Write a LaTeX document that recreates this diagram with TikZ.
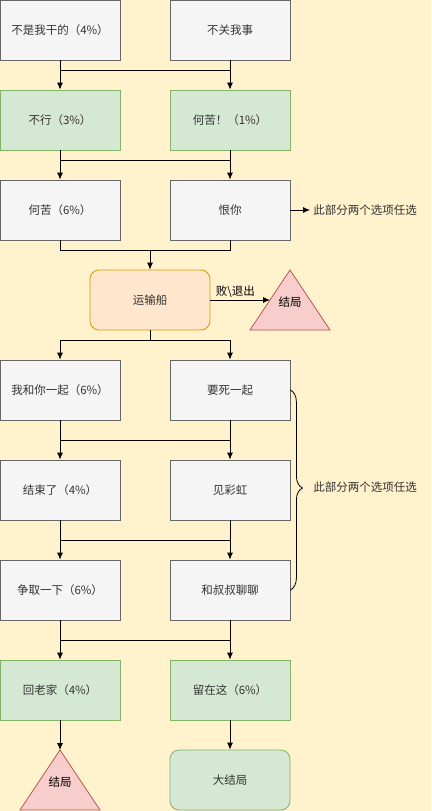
\documentclass[tikz,border=0pt]{standalone}
\usepackage{fontspec}
\setmainfont{Noto Sans CJK SC}
\usetikzlibrary{arrows.meta,decorations.pathreplacing}
\definecolor{bgyellow}{HTML}{FFF2CC}
\definecolor{greyfill}{HTML}{F5F5F5}
\definecolor{greyline}{HTML}{666666}
\definecolor{greytext}{HTML}{333333}
\definecolor{greenfill}{HTML}{D5E8D4}
\definecolor{greenline}{HTML}{82B366}
\definecolor{orangefill}{HTML}{FFE6CC}
\definecolor{orangeline}{HTML}{D79B00}
\definecolor{redfill}{HTML}{F8CECC}
\definecolor{redline}{HTML}{B85450}
\begin{document}
\begin{tikzpicture} [x = 1pt, y = -1pt, >= {Latex[length=7pt, width=6pt]},
    font = \fontsize{11.5}{13}\selectfont, line width = .8pt,
    greybox/.style = {draw = greyline, fill = greyfill, text = greytext,
      minimum width = 120pt, minimum height = 60pt, inner sep = 0pt},
    greenbox/.style = {greybox, draw = greenline, fill = greenfill},
    shipbox/.style = {greybox, draw = orangeline, fill = orangefill, rounded corners = 9pt},
    endbox/.style = {greybox, draw = greenline, fill = greenfill, rounded corners = 9pt},
    endtri/.style = {draw = redline, fill = redfill},
    note/.style = {anchor = west, text = greytext, inner sep = 3pt}]
  \fill[bgyellow] (0,0) rectangle (431,811);
  \useasboundingbox (0,0) rectangle (431,811);
  % first choice
  \node[greybox] (notme) at (60,30) {不是我干的（4\%）};
  \node[greybox] (notmine) at (230,30) {不关我事};
  \node[greenbox] (nope) at (60,120) {不行（3\%）};
  \node[greenbox] (whybother) at (230,120) {何苦！（1\%）};
  \node[greybox] (why) at (60,210) {何苦（6\%）};
  \node[greybox] (hate) at (230,210) {恨你};
  \node[note] (noteA) at (310,210) {此部分两个选项任选};
  % ship
  \node[shipbox] (ship) at (150,300) {运输船};
  \draw[endtri] (250,330) -- (290,270) -- (330,330) -- cycle;
  \node (endA) at (290,302) {结局};
  \coordinate (endAside) at (270,300);
  % second choice
  \node[greybox] (together) at (60,390) {我和你一起（6\%）};
  \node[greybox] (dietogether) at (230,390) {要死一起};
  \node[greybox] (over) at (60,490) {结束了（4\%）};
  \node[greybox] (rainbow) at (230,490) {见彩虹};
  \node[greybox] (tryit) at (60,590) {争取一下（6\%）};
  \node[greybox] (chat) at (230,590) {和叔叔聊聊};
  \node[note] (noteB) at (310,487) {此部分两个选项任选};
  \node[greenbox] (home) at (60,690) {回老家（4\%）};
  \node[greenbox] (stay) at (230,690) {留在这（6\%）};
  % endings
  \draw[endtri] (20,810) -- (60,750) -- (100,810) -- cycle;
  \node (endB) at (60,782) {结局};
  \coordinate (endBtop) at (60,750);
  \node[endbox] (bigend) at (230,780) {大结局};

  \draw (notme.south) |- ([yshift=-10pt]notmine.south);
  \draw[->] (notme.south) -- (nope.north);
  \draw[->] (notmine.south) -- (whybother.north);
  \draw (nope.south) |- ([yshift=-10pt]whybother.south);
  \draw[->] (nope.south) -- (why.north);
  \draw[->] (whybother.south) -- (hate.north);
  \draw[->] (hate.east) -- (noteA.west);
  \draw (why.south) |- ([yshift=-10pt]hate.south) -- (hate.south);
  \draw[->] (ship.north) ++(0,-20) -- (ship.north);
  \draw[->] (ship.east) -- node[above, pos = .42, inner sep = 2pt] {败\textbackslash 退出} (endAside);
  \draw (ship.south) -- ++(0,10);
  \draw[->] (ship.south) ++(0,10) -| (together.north);
  \draw[->] (ship.south) ++(0,10) -| (dietogether.north);
  \draw (together.south) |- ([yshift=-20pt]dietogether.south);
  \draw[->] (together.south) -- (over.north);
  \draw[->] (dietogether.south) -- (rainbow.north);
  \draw (over.south) |- ([yshift=-20pt]rainbow.south);
  \draw[->] (over.south) -- (tryit.north);
  \draw[->] (rainbow.south) -- (chat.north);
  \draw (tryit.south) |- ([yshift=-20pt]chat.south);
  \draw[->] (tryit.south) -- (home.north);
  \draw[->] (chat.south) -- (stay.north);
  \draw[->] (home.south) -- (endBtop);
  \draw[->] (stay.south) -- (bigend.north);
  \draw[decorate, decoration = {brace, amplitude = 12pt, aspect = .49}]
    (dietogether.east) -- (chat.east);
\end{tikzpicture}
\end{document}
